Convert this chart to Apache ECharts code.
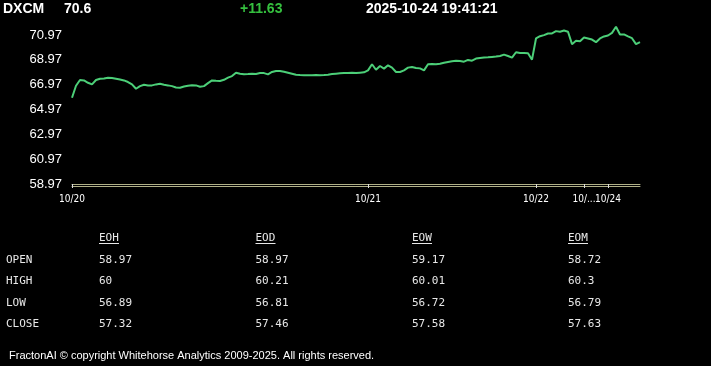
<!DOCTYPE html>
<html><head><meta charset="utf-8">
<script src="https://cdn.jsdelivr.net/npm/echarts@6/dist/echarts.min.js"></script>
<style>html,body{margin:0;padding:0;background:#000;}#c{width:711px;height:366px;}</style>
</head><body><div id="c"></div>
<script>
// ---- data ----
const symbol = 'DXCM';
const lastPrice = '70.6';
const change = '+11.63';
const timestamp = '2025-10-24 19:41:21';
const dayLabels = ['10/20', '10/21', '10/22', '10/...', '10/24'];
const dayCounts = [74, 42, 12, 6, 9];
const prices = [
  65.91, 66.88, 67.34, 67.31, 67.12, 66.99, 67.34, 67.45, 67.47, 67.53,
  67.50, 67.45, 67.39, 67.31, 67.18, 66.99, 66.64, 66.85, 66.96, 66.91,
  66.91, 66.99, 67.04, 66.96, 66.91, 66.85, 66.74, 66.72, 66.82, 66.88,
  66.93, 66.91, 66.80, 66.85, 67.09, 67.31, 67.28, 67.26, 67.36, 67.53,
  67.66, 67.93, 67.85, 67.80, 67.82, 67.85, 67.82, 67.90, 67.90, 67.80,
  67.99, 68.07, 68.07, 68.01, 67.93, 67.85, 67.77, 67.74, 67.72, 67.72,
  67.72, 67.74, 67.72, 67.74, 67.77, 67.82, 67.85, 67.88, 67.90, 67.90,
  67.93, 67.90, 67.93, 67.96, 68.12, 68.61, 68.17, 68.47, 68.26, 68.53,
  68.34, 67.99, 67.99, 68.12, 68.34, 68.39, 68.31, 68.28, 68.12, 68.61,
  68.63, 68.61, 68.66, 68.74, 68.80, 68.85, 68.90, 68.88, 68.82, 68.96,
  68.90, 69.07, 69.12, 69.15, 69.17, 69.20, 69.23, 69.28, 69.39, 69.28,
  69.15, 69.58, 69.52, 69.52, 69.50, 68.98, 70.69, 70.87, 70.96, 71.09,
  71.09, 71.28, 71.23, 71.33, 71.23, 70.23, 70.50, 70.47, 70.77, 70.69,
  70.60, 70.39, 70.69, 70.85, 70.93, 71.14, 71.63, 71.01, 71.01, 70.85,
  70.71, 70.23, 70.39
];
const yMin = 58.97;
const yMax = 71.7;
const yStep = 2;
const tableCols = ['EOH', 'EOD', 'EOW', 'EOM'];
const tableRows = ['OPEN', 'HIGH', 'LOW', 'CLOSE'];
const openVals = ['58.97', '58.97', '59.17', '58.72'];
const highVals = ['60', '60.21', '60.01', '60.3'];
const lowVals = ['56.89', '56.81', '56.72', '56.79'];
const closeVals = ['57.32', '57.46', '57.58', '57.63'];
const footer = 'FractonAI \u00a9 copyright Whitehorse Analytics 2009-2025. All rights reserved.';

// ---- build ----
const categories = [];
const dayStarts = [];
dayLabels.forEach((d, k) => {
  dayStarts.push(categories.length);
  for (let j = 0; j < dayCounts[k]; j++) categories.push(j === 0 ? d : d + '#' + j);
});
const evenStarts = dayStarts.filter((v, k) => k % 2 === 0);
const oddStarts = dayStarts.filter((v, k) => k % 2 === 1);

const tableData = [openVals, highVals, lowVals, closeVals];
const colX = [99, 255.5, 412, 568];
const rowY = [260.3, 281.2, 302.8, 324.5];
const mono = '11px "DejaVu Sans Mono", "Liberation Mono", monospace';
const graphics = [];
const hdrFont = 'bold 14px "Liberation Sans", Arial, sans-serif';
graphics.push({type: 'text', x: 3, y: 9, style: {text: symbol, fill: '#fff', font: hdrFont, verticalAlign: 'middle'}});
graphics.push({type: 'text', x: 64, y: 9, style: {text: lastPrice, fill: '#fff', font: hdrFont, verticalAlign: 'middle'}});
graphics.push({type: 'text', x: 240, y: 9, style: {text: change, fill: '#35c03f', font: hdrFont, verticalAlign: 'middle'}});
graphics.push({type: 'text', x: 366, y: 9, style: {text: timestamp, fill: '#fff', font: hdrFont, verticalAlign: 'middle'}});
tableCols.forEach((c, k) => {
  graphics.push({type: 'text', x: colX[k], y: 238.5, style: {text: c, fill: '#e8e8e8', font: mono, verticalAlign: 'middle'}});
  graphics.push({type: 'line', shape: {x1: colX[k], y1: 243.5, x2: colX[k] + 20, y2: 243.5}, style: {stroke: '#e8e8e8', lineWidth: 1}});
});
tableRows.forEach((r, i) => {
  graphics.push({type: 'text', x: 6, y: rowY[i], style: {text: r, fill: '#e8e8e8', font: mono, verticalAlign: 'middle'}});
  tableData[i].forEach((v, k) => {
    graphics.push({type: 'text', x: colX[k], y: rowY[i], style: {text: v, fill: '#e8e8e8', font: mono, verticalAlign: 'middle'}});
  });
});
graphics.push({type: 'text', x: 9, y: 355.5, style: {text: footer, fill: '#fff', font: '11px "Liberation Sans", Arial, sans-serif', verticalAlign: 'middle'}});

const labelStyle = {
  formatter: v => String(v).split('#')[0],
  color: '#fff',
  fontSize: 10,
  fontFamily: '"DejaVu Sans Condensed", "Liberation Sans Narrow", "Liberation Sans", Arial',
  margin: 10,
  hideOverlap: false
};
const tickStyle = {show: true, length: 4, lineStyle: {color: '#ddd'}};

const chart = echarts.init(document.getElementById('c'), null, {renderer: 'canvas'});
chart.setOption({
  backgroundColor: '#000',
  animation: false,
  grid: {left: 72, right: 71, top: 25.9, bottom: 182, containLabel: false},
  xAxis: [{
    type: 'category',
    data: categories,
    boundaryGap: false,
    position: 'bottom',
    axisLine: {show: true, lineStyle: {color: '#b0b088', width: 1}},
    axisTick: Object.assign({customValues: evenStarts}, tickStyle),
    axisLabel: Object.assign({customValues: evenStarts}, labelStyle),
    splitLine: {show: false}
  }, {
    type: 'category',
    data: categories,
    boundaryGap: false,
    position: 'bottom',
    offset: 2,
    axisLine: {show: true, lineStyle: {color: '#b0b088', width: 1}},
    axisTick: {show: false},
    axisLabel: {show: false},
    splitLine: {show: false}
  }, {
    type: 'category',
    data: categories,
    boundaryGap: false,
    position: 'bottom',
    offset: 0,
    axisLine: {show: false},
    axisTick: Object.assign({customValues: oddStarts}, tickStyle),
    axisLabel: Object.assign({customValues: oddStarts}, labelStyle),
    splitLine: {show: false}
  }],
  yAxis: {
    type: 'value',
    min: yMin,
    max: yMax,
    interval: yStep,
    axisLine: {show: false},
    axisTick: {show: false},
    splitLine: {show: false},
    axisLabel: {
      formatter: v => v.toFixed(2),
      showMaxLabel: false,
      color: '#fff',
      fontSize: 13,
      fontFamily: '"Liberation Sans", Arial, sans-serif',
      margin: 10
    }
  },
  series: [{
    type: 'line',
    data: prices,
    showSymbol: false,
    lineStyle: {color: '#4ccf78', width: 2},
    itemStyle: {color: '#4ccf78'}
  }],
  graphic: graphics
});
</script></body></html>
